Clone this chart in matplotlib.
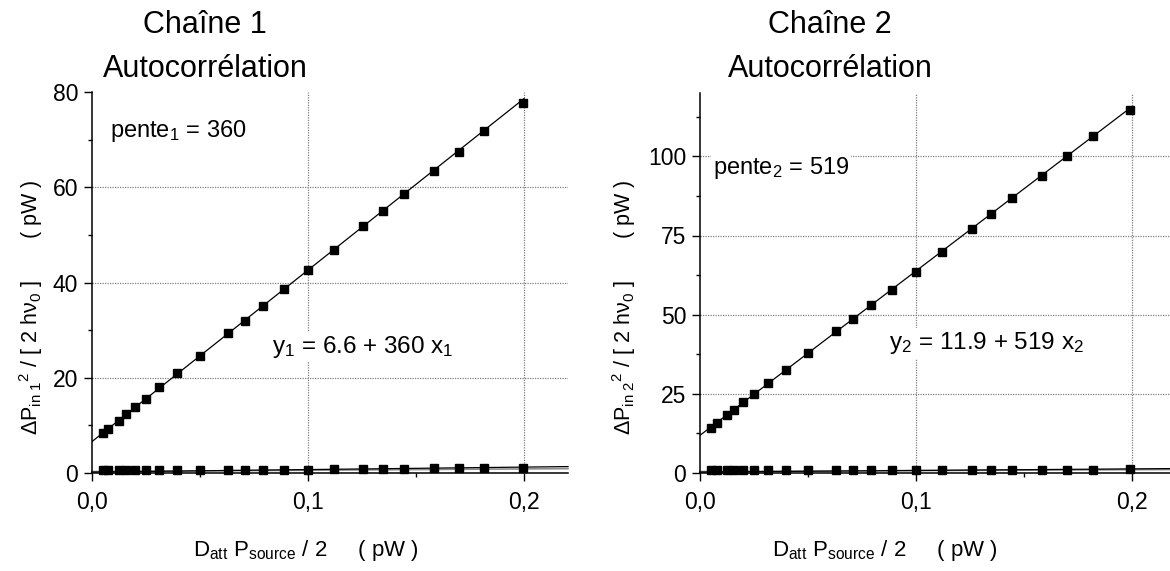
import numpy as np
import matplotlib
matplotlib.use("Agg")
import matplotlib.pyplot as plt
from matplotlib.ticker import MultipleLocator, FuncFormatter

plt.rcParams['font.family'] = ['Liberation Sans', 'DejaVu Sans']
plt.rcParams['mathtext.fontset'] = 'custom'
plt.rcParams['mathtext.rm'] = 'Liberation Sans'
plt.rcParams['mathtext.it'] = 'Liberation Sans:italic'
plt.rcParams['mathtext.bf'] = 'Liberation Sans:bold'

# ---------------- data ----------------
x1 = [0.0049, 0.0076, 0.0123, 0.0157, 0.0197, 0.0248, 0.0312, 0.0395, 0.0499, 0.0628, 0.0707,
      0.0792, 0.0889, 0.0999, 0.1120, 0.1256, 0.1349, 0.1443, 0.1582, 0.1698, 0.1816, 0.1994]
y1_auto = [8.3, 9.2, 10.9, 12.3, 13.8, 15.5, 18.0, 20.9, 24.6, 29.3, 32.0,
           35.1, 38.6, 42.6, 46.9, 51.9, 55.0, 58.5, 63.4, 67.4, 71.8, 77.7]
y1_low = [0.55, 0.56, 0.57, 0.58, 0.58, 0.59, 0.60, 0.62, 0.63, 0.65, 0.66,
          0.67, 0.69, 0.71, 0.78, 0.85, 0.88, 0.92, 0.95, 1.00, 1.05, 1.10]

x2 = [0.0049, 0.0077, 0.0124, 0.0157, 0.0199, 0.0248, 0.0315, 0.0398, 0.0501, 0.0630, 0.0707,
      0.0792, 0.0889, 0.1000, 0.1122, 0.1258, 0.1349, 0.1444, 0.1585, 0.1699, 0.1818, 0.1992]
y2_auto = [14.2, 15.8, 18.4, 20.0, 22.3, 24.9, 28.4, 32.6, 37.9, 44.7, 48.6,
           53.1, 57.9, 63.6, 69.9, 76.9, 81.8, 86.8, 93.9, 100.0, 106.4, 114.7]
y2_low = [0.85, 0.86, 0.87, 0.88, 0.88, 0.89, 0.90, 0.91, 0.92, 0.93, 0.94,
          0.95, 0.96, 0.97, 0.99, 1.00, 1.02, 1.04, 1.06, 1.08, 1.10, 1.12]

fit1 = (6.6, 360.0)
fit2 = (11.9, 519.0)
fit1_low_black = (0.2, 5.2)
fit1_low_gray = (0.3, 2.8)
fit2_low_black = (0.3, 5.0)
fit2_low_gray = (0.45, 3.0)

titles = [("Chaîne 1", "Autocorrélation"), ("Chaîne 2", "Autocorrélation")]
pente_txt = [r"pente$_{\mathregular{1}}$ = 360", r"pente$_{\mathregular{2}}$ = 519"]
eq_txt = [r"y$_{\mathregular{1}}$ = 6.6 + 360 x$_{\mathregular{1}}$",
          r"y$_{\mathregular{2}}$ = 11.9 + 519 x$_{\mathregular{2}}$"]
ylabels = [r"ΔP$_{\mathregular{in\ 1}}{}^{\mathregular{2}}$ / [ 2 hν$_{\mathregular{0}}$ ]       ( pW )",
           r"ΔP$_{\mathregular{in\ 2}}{}^{\mathregular{2}}$ / [ 2 hν$_{\mathregular{0}}$ ]       ( pW )"]
xlabel = r"D$_{\mathregular{att}}$ P$_{\mathregular{source}}$ / 2     ( pW )"

xticks = [0.0, 0.1, 0.2]
yticks1 = [0, 20, 40, 60, 80]
yticks2 = [0, 25, 50, 75, 100]

# ---------------- figure ----------------
W, H = 1170, 571
fig = plt.figure(figsize=(W / 100, H / 100), dpi=100)

def fx(px):
    return px / W

def fy(py):
    return 1 - py / H

ax1 = fig.add_axes([fx(92), fy(473), fx(568 - 92), (473 - 92) / H])
ax2 = fig.add_axes([fx(700), fy(473), fx(1170 - 700), (473 - 93) / H])

def style(ax, xmax, ymax, yticks, ymin_step):
    ax.set_xlim(0, xmax)
    ax.set_ylim(0, ymax)
    for s in ['top', 'right']:
        ax.spines[s].set_visible(False)
    for s in ['left', 'bottom']:
        ax.spines[s].set_linewidth(1.1)
    ax.set_xticks(xticks)
    ax.xaxis.set_minor_locator(MultipleLocator(0.05))
    ax.set_yticks(yticks)
    ax.yaxis.set_minor_locator(MultipleLocator(ymin_step))
    ax.xaxis.set_major_formatter(FuncFormatter(lambda v, p: f"{v:.1f}".replace('.', ',')))
    ax.tick_params(which='major', direction='out', length=6, width=1, labelsize=16.5)
    ax.tick_params(which='minor', direction='out', length=3, width=1)
    ax.tick_params(axis='x', which='major', pad=7)
    ax.tick_params(axis='y', which='major', pad=4)
    for t in xticks:
        if 0 < t < xmax:
            ax.axvline(t, color='#808080', lw=0.9, ls=(0, (1, 1)), zorder=0.5)
    for t in yticks:
        if 0 < t < ymax:
            ax.axhline(t, color='#808080', lw=0.9, ls=(0, (1, 1)), zorder=0.5)

style(ax1, 0.2204, 80, yticks1, 10)
style(ax2, 470 / 2160, 120, yticks2, 12.5)

def draw(ax, x, ya, yl, fit, fb, fg, xmax):
    xf = np.array([0.0, 0.2])
    ax.plot(xf, fit[0] + fit[1] * xf, color='black', lw=0.9, zorder=2)
    xl = np.array([0.0, xmax])
    ax.plot(xl, fg[0] + fg[1] * xl, color='#8c8c8c', lw=1.2, zorder=2, clip_on=False)
    ax.plot(xl, fb[0] + fb[1] * xl, color='black', lw=0.9, zorder=2, clip_on=False)
    ax.plot(x, ya, 's', color='black', ms=5.8, zorder=3, clip_on=False)
    ax.plot(x, yl, 's', color='black', ms=5.8, zorder=3, clip_on=False)

draw(ax1, x1, y1_auto, y1_low, fit1, fit1_low_black, fit1_low_gray, 0.2204)
draw(ax2, x2, y2_auto, y2_low, fit2, fit2_low_black, fit2_low_gray, 470 / 2160)

bbox = dict(facecolor='white', edgecolor='none', pad=1.5)
ax1.text(0.0083, 71.8, pente_txt[0], fontsize=17, ha='left', va='center', bbox=bbox, zorder=4)
ax1.text(0.0833, 26.4, eq_txt[0], fontsize=17.5, ha='left', va='center', bbox=bbox, zorder=4)
ax2.text(0.006, 96.4, pente_txt[1], fontsize=17, ha='left', va='center', bbox=bbox, zorder=4)
ax2.text(0.0875, 40.9, eq_txt[1], fontsize=17.5, ha='left', va='center', bbox=bbox, zorder=4)

# titles
for cx, (l1, l2) in zip([205, 830], titles):
    fig.text(fx(cx), fy(33), l1, fontsize=22, ha='center', va='baseline')
    fig.text(fx(cx), fy(77), l2, fontsize=22, ha='center', va='baseline')

# y labels
fig.text(fx(31), fy(307), ylabels[0], fontsize=15.5, rotation=90, ha='center', va='center')
fig.text(fx(624), fy(307), ylabels[1], fontsize=15.5, rotation=90, ha='center', va='center')

# x labels
fig.text(fx(306), fy(556), xlabel, fontsize=16, ha='center', va='baseline')
fig.text(fx(885), fy(556), xlabel, fontsize=16, ha='center', va='baseline')

fig.savefig("out.png", dpi=100)
